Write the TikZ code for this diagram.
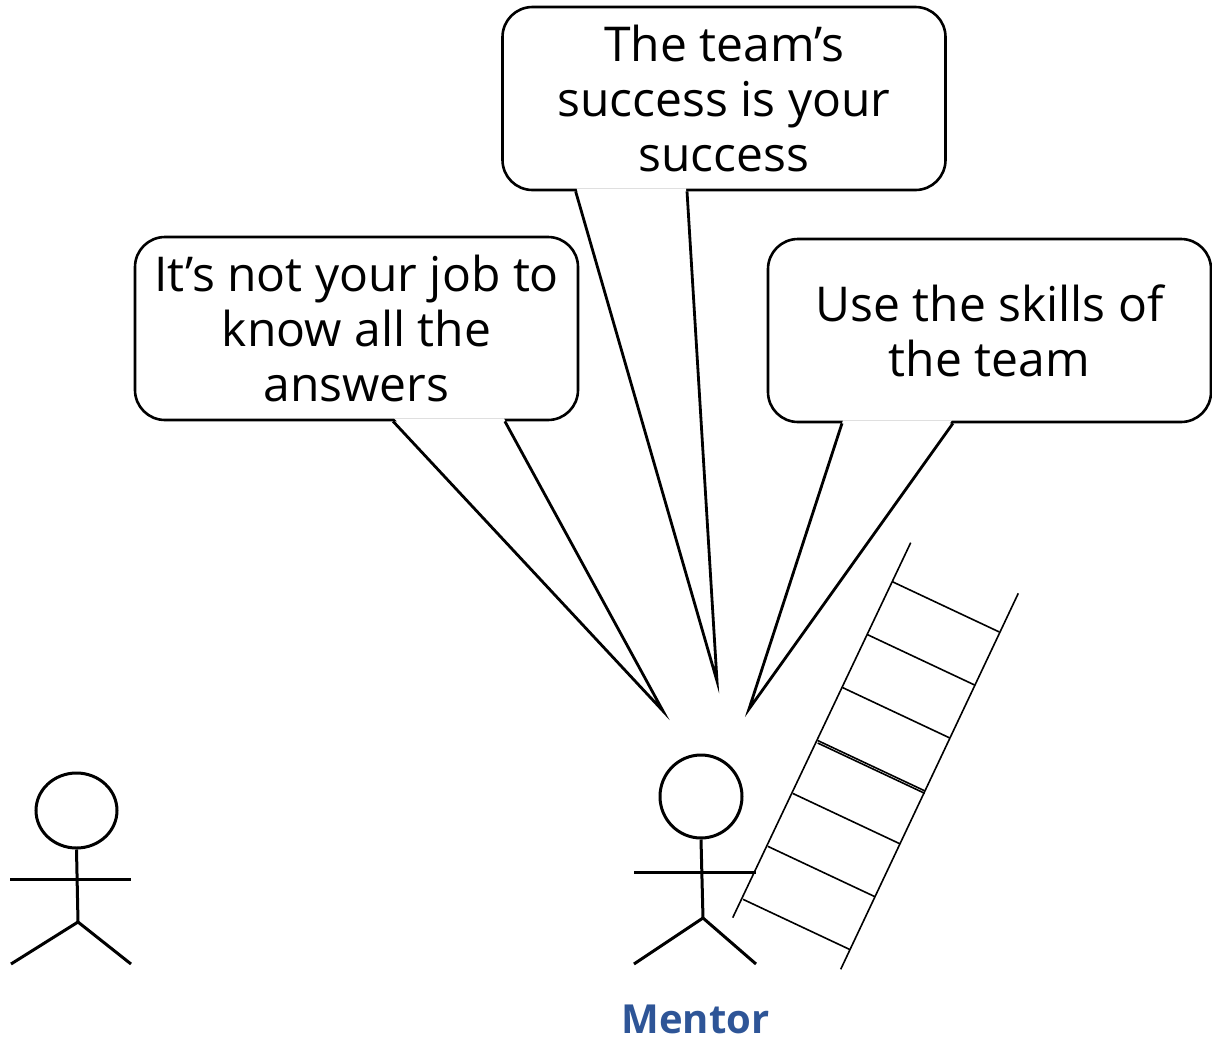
\documentclass[tikz,border=0pt]{standalone}
\usepackage{fontspec}
\setmainfont{Open Sans}
\usetikzlibrary{calc,shapes.geometric}
\definecolor{mentorblue}{RGB}{46,85,151}

\begin{document}
\begin{tikzpicture}[
x=0.5pt,y=-0.5pt,
font=\fontsize{24}{27.5}\selectfont,
bubble/.style={rectangle,draw=black,fill=white,line width=1.3pt,rounded corners=15pt,align=center,minimum width=221.5pt,minimum height=91.5pt,inner sep=0pt},
tail/.style={draw=black,line width=1.4pt,line join=miter},
limb/.style={draw=black,line width=1.5pt},
head/.style={ellipse,draw=black,line width=1.5pt,inner sep=0pt},
rail/.style={draw=black,line width=0.8pt}
]
\useasboundingbox (0,0) rectangle (1212,1046);

% Draw speech bubbles
\node [bubble] (say1) at (356.5,328.5) {It’s not your job to\\know all the\\answers};
\node [bubble] (say2) at (724,98.5) {The team’s\\success is your\\success};
\node [bubble] (say3) at (989.5,330.5) {Use the skills of\\the team};

% Tails: base on the bubble, tip near the mentor
\coordinate (tipsay1) at (663,711);
\coordinate (tipsay2) at (717,681);
\coordinate (tipsay3) at (749,709);

\foreach \b/\l/\r in {say1/0.582/0.833,say2/0.167/0.417,say3/0.169/0.418}{
  \coordinate (bl) at ($(\b.south west)!\l!(\b.south east)$);
  \coordinate (br) at ($(\b.south west)!\r!(\b.south east)$);
  \fill [white] ($(bl)+(1,-3)$) -- (tip\b) -- ($(br)+(-1,-3)$) -- cycle;
  \draw [tail] (bl) -- (tip\b) -- (br);
}

% Mentor
\node [head,minimum width=41pt,minimum height=41.5pt] (mhead) at (701,796.5) {};
\coordinate (mhip) at (703,918);
\coordinate (mhandl) at (634,872);
\coordinate (mhandr) at (756,872);
\draw [limb] (mhead.south) -- (mhip);
\draw [limb] (mhandl) -- (mhandr);
\draw [limb] (634,964) -- (mhip) -- (756,964);
\node [font=\fontsize{20}{24}\selectfont\bfseries,text=mentorblue] (mname) at (695.5,1019) {Mentor};

% Other person
\node [head,minimum width=40.5pt,minimum height=37.5pt] (lhead) at (76.5,810.5) {};
\coordinate (lhip) at (78,922);
\draw [limb] (lhead.south) -- (lhip);
\draw [limb] (10,879) -- (131,879);
\draw [limb] (11,964) -- (lhip) -- (131,964);

% Draw ladder
\coordinate (railA1) at (732.7,917.7);
\coordinate (railA2) at (910.7,542.7);
\coordinate (railB1) at (840.7,969.3);
\coordinate (railB2) at (1018.3,593.3);
\draw [rail] (railA1) -- (railA2);
\draw [rail] (railB1) -- (railB2);

\coordinate (rung) at (743,899.3);
\foreach \i in {0,...,6}{
  \coordinate (p1) at ($(rung)+\i*(24.9,-52.93)$);
  \coordinate (p2) at ($(p1)+(107,50.3)$);
  \draw [rail] (p1) to (p2);
}
% the doubled rung
\draw [rail] ($(rung)+3*(24.9,-52.93)+(0,2.5)$) -- ($(rung)+3*(24.9,-52.93)+(107,52.8)$);

\end{tikzpicture}
\end{document}
